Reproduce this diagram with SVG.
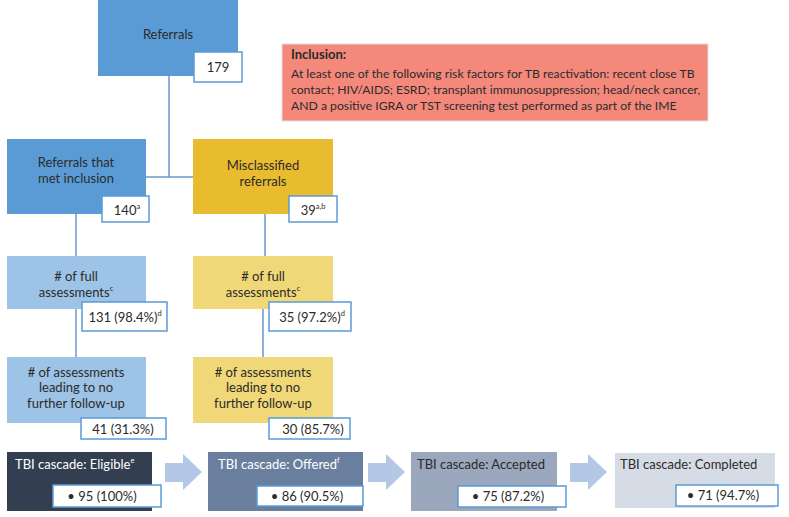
<svg xmlns="http://www.w3.org/2000/svg" width="789" height="517" viewBox="0 0 789 517">
<style>
text{font-family:Lato,"Open Sans","Liberation Sans",sans-serif;font-size:13px;fill:#2b2b2b}
.c{text-anchor:middle}
.w{fill:#ffffff}
.inc{font-size:12.2px}
.num{fill:#ffffff;stroke:#5b9bd5;stroke-width:1.5}
.conn{stroke:#6a9bd0;stroke-width:1.5;fill:none}
.arr{fill:#b4c7e7}
.sup{font-size:7.5px}
</style>
<rect width="789" height="517" fill="#ffffff"/>
<g id="connectors">
<path class="conn" d="M169,76 V177 M146,177 H193"/>
<path class="conn" d="M76,214 V256 M265,214 V256"/>
<path class="conn" d="M76,309 V357 M263,309 V357"/>
</g>
<g id="arrows">
<polygon class="arr" points="165,463 183,463 183,454 202,472 183,490 183,482 165,482"/>
<polygon class="arr" points="368,463 386,463 386,454 405,472 386,490 386,482 368,482"/>
<polygon class="arr" points="570,463 588,463 588,454 607,472 588,490 588,482 570,482"/>
</g>
<g id="inclusion">
<rect x="282" y="44" width="426" height="77" fill="#f4897b" stroke="#e0e0e0" stroke-width="1"/>
<text x="291" y="59" style="font-weight:bold">Inclusion:</text>
<text x="291" y="78" class="inc">At least one of the following risk factors for TB reactivation: recent close TB</text>
<text x="291" y="94" class="inc">contact; HIV/AIDS; ESRD; transplant immunosuppression; head/neck cancer,</text>
<text x="291" y="110" class="inc">AND a positive IGRA or TST screening test performed as part of the IME</text>
</g>
<g id="referrals">
<rect x="98" y="0" width="140" height="76" fill="#5b9bd5"/>
<text x="168" y="39" class="c">Referrals</text>
<rect x="194" y="52" width="48" height="30" class="num"/>
<text x="218" y="72" class="c">179</text>
</g>
<g id="met-inclusion">
<rect x="7" y="139" width="139" height="75" fill="#5b9bd5"/>
<text x="76" y="167" class="c">Referrals that</text>
<text x="76" y="183" class="c">met inclusion</text>
<rect x="102" y="196" width="47" height="26" class="num"/>
<text x="127" y="215" class="c">140<tspan class="sup" dy="-6">a</tspan></text>
</g>
<g id="misclassified">
<rect x="193" y="139" width="140" height="75" fill="#e9bb2e"/>
<text x="263" y="170" class="c">Misclassified</text>
<text x="263" y="186" class="c">referrals</text>
<rect x="289" y="196" width="48" height="26" class="num"/>
<text x="313" y="215" class="c">39<tspan class="sup" dy="-6">a,b</tspan></text>
</g>
<g id="full-left">
<rect x="7" y="256" width="139" height="53" fill="#9dc3e6"/>
<text x="76" y="281" class="c"># of full</text>
<text x="76" y="297" class="c">assessments<tspan class="sup" dy="-6">c</tspan></text>
<rect x="82" y="302" width="85" height="29" class="num"/>
<text x="125" y="322" class="c">131 (98.4%)<tspan class="sup" dy="-6">d</tspan></text>
</g>
<g id="full-right">
<rect x="193" y="256" width="140" height="53" fill="#f0d878"/>
<text x="263" y="281" class="c"># of full</text>
<text x="263" y="297" class="c">assessments<tspan class="sup" dy="-6">c</tspan></text>
<rect x="269" y="302" width="82" height="29" class="num"/>
<text x="312" y="322" class="c">35 (97.2%)<tspan class="sup" dy="-6">d</tspan></text>
</g>
<g id="nofollow-left">
<rect x="7" y="357" width="139" height="66" fill="#9dc3e6"/>
<text x="76" y="377" class="c"># of assessments</text>
<text x="76" y="392" class="c">leading to no</text>
<text x="76" y="408" class="c">further follow-up</text>
<rect x="81" y="418" width="85" height="21" class="num"/>
<text x="123" y="434" class="c">41 (31.3%)</text>
</g>
<g id="nofollow-right">
<rect x="193" y="357" width="140" height="66" fill="#f0d878"/>
<text x="263" y="377" class="c"># of assessments</text>
<text x="263" y="392" class="c">leading to no</text>
<text x="263" y="408" class="c">further follow-up</text>
<rect x="269" y="418" width="81" height="21" class="num"/>
<text x="313" y="434" class="c">30 (85.7%)</text>
</g>
<g id="eligible">
<rect x="7" y="452" width="145" height="59" fill="#333f50"/>
<text x="15" y="469" class="w">TBI cascade: Eligible<tspan class="sup w" dy="-6">e</tspan></text>
<rect x="53" y="485" width="108" height="22" class="num"/>
<text x="102" y="501" class="c">• 95 (100%)</text>
</g>
<g id="offered">
<rect x="208" y="452" width="155" height="59" fill="#6a7f9e"/>
<text x="218" y="469" class="w">TBI cascade: Offered<tspan class="sup w" dy="-6">f</tspan></text>
<rect x="257" y="486" width="106" height="20" class="num"/>
<text x="307" y="501" class="c">• 86 (90.5%)</text>
</g>
<g id="accepted">
<rect x="411" y="452" width="146" height="59" fill="#9aa7bd"/>
<text x="417" y="469">TBI cascade: Accepted</text>
<rect x="458" y="486" width="108" height="21" class="num"/>
<text x="508" y="501" class="c">• 75 (87.2%)</text>
</g>
<g id="completed">
<rect x="615" y="453" width="160" height="55" fill="#d6dce5"/>
<text x="620" y="469">TBI cascade: Completed</text>
<rect x="676" y="485" width="102" height="21" class="num"/>
<text x="723" y="500" class="c">• 71 (94.7%)</text>
</g>
</svg>
